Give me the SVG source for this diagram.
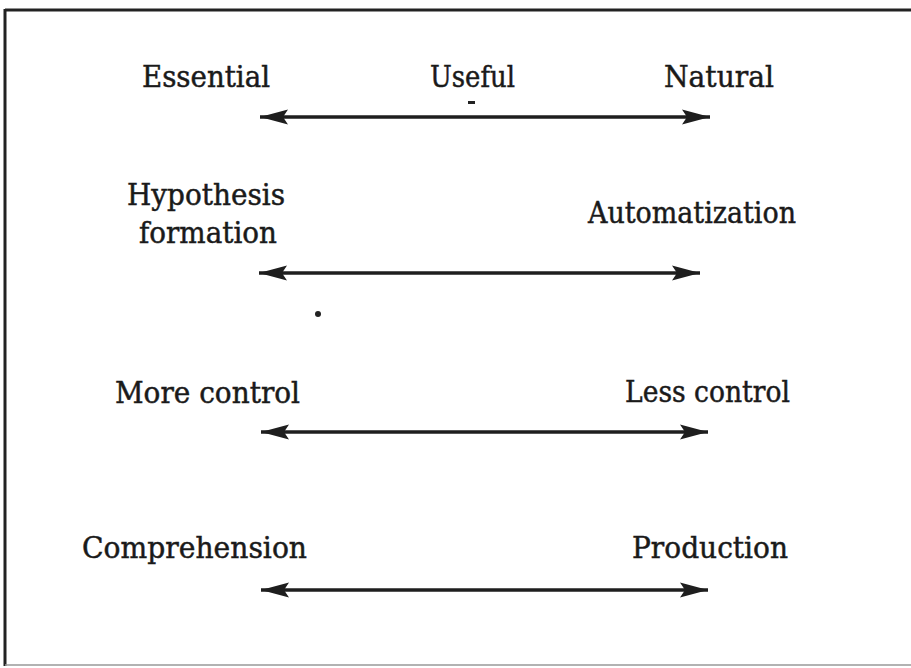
<svg xmlns="http://www.w3.org/2000/svg" width="911" height="668" viewBox="0 0 911 668">
<style>
.lbl{font-family:"DejaVu Serif","Liberation Serif",serif;font-size:30px;fill:#1a1a1a;stroke:#1a1a1a;stroke-width:0.5}
.shaft{stroke:#1e1e1e;stroke-width:3.5;fill:none}
</style>
<defs>
<marker id="ah" viewBox="0 0 28 18" refX="28" refY="9" markerWidth="28" markerHeight="18" markerUnits="userSpaceOnUse" orient="auto-start-reverse">
<path d="M0,1.5 L28,9 L0,16.5 L5,9 Z" fill="#1e1e1e"/>
</marker>
</defs>
<rect width="911" height="668" fill="#fff"/>
<g id="frame">
<line x1="5" y1="10" x2="911" y2="10" stroke="#222" stroke-width="3"/>
<line x1="5" y1="9" x2="5" y2="666" stroke="#222" stroke-width="3"/>
<line x1="5" y1="665" x2="911" y2="665" stroke="#999" stroke-width="1.5"/>
</g>
<g id="connectors">
<line class="shaft" x1="260" y1="117" x2="710" y2="117" marker-start="url(#ah)" marker-end="url(#ah)"/>
<line class="shaft" x1="259" y1="273" x2="700" y2="273" marker-start="url(#ah)" marker-end="url(#ah)"/>
<line class="shaft" x1="261" y1="432" x2="708" y2="432" marker-start="url(#ah)" marker-end="url(#ah)"/>
<line class="shaft" x1="261" y1="590" x2="708" y2="590" marker-start="url(#ah)" marker-end="url(#ah)"/>
</g>
<g id="row1">
<text class="lbl" x="142" y="87" textLength="128" lengthAdjust="spacingAndGlyphs">Essential</text>
<text class="lbl" x="430" y="87" textLength="85" lengthAdjust="spacingAndGlyphs">Useful</text>
<rect x="468" y="101" width="7" height="3" fill="#222"/>
<text class="lbl" x="664" y="87" textLength="110" lengthAdjust="spacingAndGlyphs">Natural</text>
</g>
<g id="row2">
<text class="lbl" x="127" y="205" textLength="158" lengthAdjust="spacingAndGlyphs">Hypothesis</text>
<text class="lbl" x="139" y="243" textLength="138" lengthAdjust="spacingAndGlyphs">formation</text>
<text class="lbl" x="588" y="223" textLength="208" lengthAdjust="spacingAndGlyphs">Automatization</text>
<circle cx="318" cy="314" r="3" fill="#222"/>
</g>
<g id="row3">
<text class="lbl" x="115" y="403" textLength="185" lengthAdjust="spacingAndGlyphs">More control</text>
<text class="lbl" x="625" y="402" textLength="165" lengthAdjust="spacingAndGlyphs">Less control</text>
</g>
<g id="row4">
<text class="lbl" x="82" y="558" textLength="225" lengthAdjust="spacingAndGlyphs">Comprehension</text>
<text class="lbl" x="632" y="558" textLength="156" lengthAdjust="spacingAndGlyphs">Production</text>
</g>
</svg>
